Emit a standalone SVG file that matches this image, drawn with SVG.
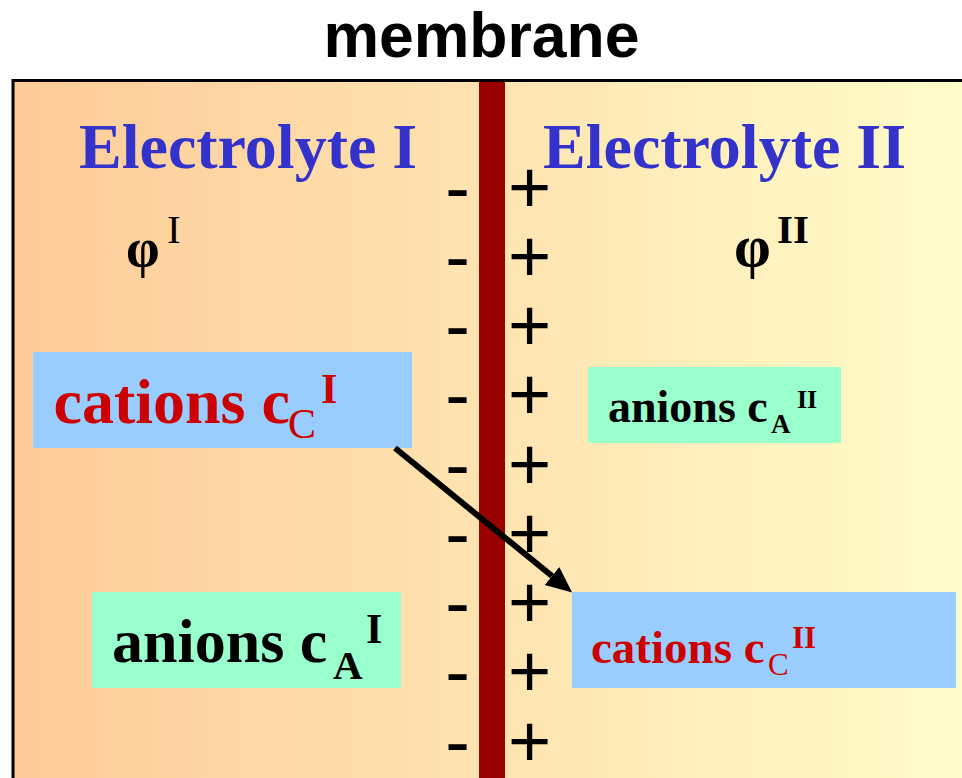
<svg xmlns="http://www.w3.org/2000/svg" width="962" height="778" viewBox="0 0 962 778">
  <defs>
    <linearGradient id="bg" x1="0" y1="0" x2="1" y2="0">
      <stop offset="0" stop-color="#FDCB98"/>
      <stop offset="1" stop-color="#FFFFCC"/>
    </linearGradient>
    <marker id="arrowhead" markerUnits="userSpaceOnUse" markerWidth="27" markerHeight="24" refX="0" refY="11.5" orient="auto">
      <path d="M0,0 L26,11.5 L0,23 Z" fill="#000"/>
    </marker>
    <style>
      .serif { font-family: "Liberation Serif", "Times New Roman", serif; font-weight: bold; }
      .reg { font-weight: normal; }
      .title { font-family: "Liberation Sans", Arial, sans-serif; font-weight: bold; font-size: 62.5px; fill: #000; }
      .electro { fill: #3333CC; font-size: 64px; }
      .sign { font-family: "Liberation Sans", Arial, sans-serif; font-size: 74px; fill: #000; text-anchor: middle; }
      .red { fill: #CC0000; }
      .blk { fill: #000; }
      .bluebox { fill: #99CCFF; }
      .greenbox { fill: #99FFCC; }
    </style>
  </defs>

  <rect x="0" y="0" width="962" height="778" fill="#FFFFFF"/>

  <g id="frame">
    <rect x="13" y="80.5" width="1000" height="760" fill="url(#bg)" stroke="#000" stroke-width="3"/>
  </g>

  <g id="title">
    <text class="title" x="481.5" y="57" text-anchor="middle">membrane</text>
  </g>

  <g id="membrane">
    <rect x="479" y="82" width="26" height="700" fill="#990000"/>
  </g>

  <g id="electrolyte-1">
    <text class="serif electro" x="79" y="168">Electrolyte I</text>
    <text class="serif blk" x="126" y="266" font-size="54">φ<tspan class="reg" x="167" y="243" font-size="41">I</tspan></text>
  </g>

  <g id="electrolyte-2">
    <text class="serif electro" x="543" y="168">Electrolyte II</text>
    <text class="serif blk" x="734" y="266" font-size="59">φ<tspan x="777" y="243" font-size="41">II</tspan></text>
  </g>

  <g id="charges-minus">
    <text class="sign"><tspan x="457.5" y="212.5">-</tspan><tspan x="457.5" y="281.75">-</tspan><tspan x="457.5" y="351">-</tspan><tspan x="457.5" y="420.25">-</tspan><tspan x="457.5" y="489.5">-</tspan><tspan x="457.5" y="558.75">-</tspan><tspan x="457.5" y="628">-</tspan><tspan x="457.5" y="697.25">-</tspan><tspan x="457.5" y="766.5">-</tspan></text>
  </g>

  <g id="charges-plus">
    <text class="sign"><tspan x="529.5" y="212.5">+</tspan><tspan x="529.5" y="281.75">+</tspan><tspan x="529.5" y="351">+</tspan><tspan x="529.5" y="420.25">+</tspan><tspan x="529.5" y="489.5">+</tspan><tspan x="529.5" y="558.75">+</tspan><tspan x="529.5" y="628">+</tspan><tspan x="529.5" y="697.25">+</tspan><tspan x="529.5" y="766.5">+</tspan></text>
  </g>

  <g id="cations-1">
    <rect class="bluebox" x="33" y="352" width="379" height="96"/>
    <text class="serif red" x="53.5" y="423" font-size="64">cations c<tspan class="reg" x="288" y="438" font-size="42">C</tspan><tspan x="321" y="403" font-size="42">I</tspan></text>
  </g>

  <g id="anions-2">
    <rect class="greenbox" x="588" y="367" width="253" height="76"/>
    <text class="serif blk" x="608" y="422" font-size="46">anions c<tspan x="771" y="433" font-size="27">A</tspan><tspan x="797" y="408" font-size="26">II</tspan></text>
  </g>

  <g id="anions-1">
    <rect class="greenbox" x="92" y="592" width="309" height="96"/>
    <text class="serif blk" x="112" y="662" font-size="62">anions c<tspan x="333" y="679" font-size="41">A</tspan><tspan x="366" y="643" font-size="42">I</tspan></text>
  </g>

  <g id="cations-2">
    <rect class="bluebox" x="572" y="592" width="384" height="96"/>
    <text class="serif red" x="591" y="663" font-size="47">cations c<tspan class="reg" x="768" y="675" font-size="31">C</tspan><tspan x="792" y="648" font-size="31">II</tspan></text>
  </g>

  <g id="connectors">
    <path d="M395,448 L552,576" stroke="#000" stroke-width="6" fill="none" marker-end="url(#arrowhead)"/>
  </g>
</svg>
